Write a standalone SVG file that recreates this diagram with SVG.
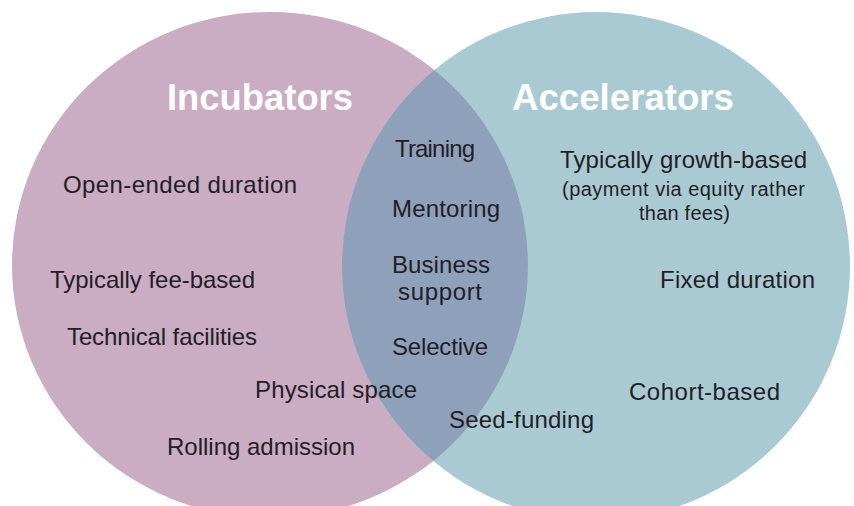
<svg xmlns="http://www.w3.org/2000/svg" width="854" height="506" viewBox="0 0 854 506">
<style>
.t{font-family:"Liberation Sans","Helvetica",Arial,sans-serif;font-size:24px;fill:#231d26}
.s{font-size:20px}
.h{font-family:"Liberation Sans","Helvetica",Arial,sans-serif;font-size:37px;font-weight:bold;fill:#ffffff}
</style>
<defs>
<clipPath id="rc"><circle cx="596" cy="266" r="254"/></clipPath>
</defs>
<rect width="854" height="506" fill="#ffffff"/>
<g id="incubators">
<ellipse cx="270" cy="265" rx="258" ry="253" fill="#caacc3"/>
</g>
<g id="accelerators">
<circle cx="596" cy="266" r="254" fill="#a9cad3"/>
</g>
<g id="overlap">
<ellipse cx="270" cy="265" rx="258" ry="253" fill="#8fa1ba" clip-path="url(#rc)"/>
</g>
<g id="incubators-labels">
<text class="h" x="167" y="110" textLength="186" lengthAdjust="spacingAndGlyphs">Incubators</text>
<text class="t" x="63" y="193" textLength="234">Open-ended duration</text>
<text class="t" x="50" y="288" textLength="205">Typically fee-based</text>
<text class="t" x="67" y="345" textLength="190">Technical facilities</text>
<text class="t" x="255" y="398" textLength="162">Physical space</text>
<text class="t" x="167" y="455" textLength="188">Rolling admission</text>
</g>
<g id="shared-labels">
<text class="t" x="395" y="157" textLength="80">Training</text>
<text class="t" x="392" y="217" textLength="108">Mentoring</text>
<text class="t" x="392" y="273" textLength="98">Business</text>
<text class="t" x="398" y="300" textLength="84">support</text>
<text class="t" x="392" y="355" textLength="96">Selective</text>
<text class="t" x="449" y="428" textLength="145">Seed-funding</text>
</g>
<g id="accelerators-labels">
<text class="h" x="512" y="110" textLength="222" lengthAdjust="spacingAndGlyphs">Accelerators</text>
<text class="t" x="560" y="168" textLength="247">Typically growth-based</text>
<text class="t s" x="562" y="196" textLength="243">(payment via equity rather</text>
<text class="t s" x="639" y="220" textLength="91">than fees)</text>
<text class="t" x="660" y="288" textLength="155">Fixed duration</text>
<text class="t" x="629" y="400" textLength="151">Cohort-based</text>
</g>
</svg>
